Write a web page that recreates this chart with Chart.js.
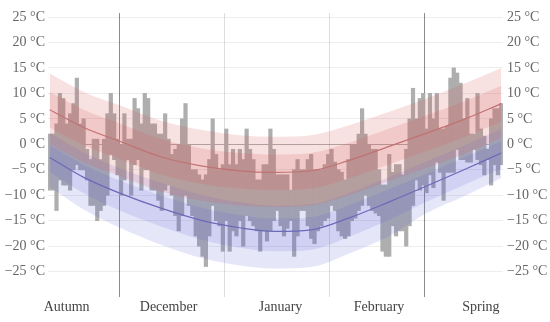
<!DOCTYPE html>
<html>
<head>
<meta charset="utf-8">
<script src="https://cdn.jsdelivr.net/npm/chart.js@4"></script>
<style>
  html, body { margin: 0; padding: 0; background: #fff; }
</style>
</head>
<body>
<canvas id="chart" width="550" height="322"></canvas>
<script>
// daily observed range, one entry per day starting Nov 10
const dayHighs = [
  2, 2, 4, 10, 9, 4, 6, 8, 13, 4,
  5, -1, -3, 1, 1, -3, 1, 6, 10, 6,
  1, 0, 6, 1, 1, 9, 7, 4, 10, 9,
  4, 4, 2, 2, 6, 1, -2, -1, 0, 5,
  8, 0, -5, -5, -6, -7, -6, -3, 5, -2,
  -5, -4, 3, -4, -1, -4, -1, -3, 3, -1,
  -3, -7, -7, -4, -4, 3, -1, -6, -6, -6,
  -6, -9, -5, -3, -5, -5, -3, -2, -5, -5,
  -5, -4, -2, -1, -3.5, -5, -5.5, -7, -3, 0,
  0, 2, 7, 2, 0, -1, -1, -5, -8, -8,
  -2, -5.5, -4, -4, -6, -1, 5, 11, 5, 9,
  10, 3, 10, 5, 10, 3, 3, 3.5, 13, 15,
  14, 12, 5, 9, 2, 2, 10, 3, 1.6, -1,
  5, 7, 7, 8
]
const dayLows = [
  -9, -9, -13, -7, -8, -8, -9, -5, -4, -5,
  -5, -7, -12, -12, -15, -13, -12, -10, -2, -3,
  -6, -10, -7, -3, -10, -4, -3, -9, -5, -5,
  -9, -9, -11, -13, -9, -8, -10, -14, -17, -14,
  -10, -12, -14, -18, -20, -22, -24, -18, -12, -15,
  -16, -21, -15, -21, -17, -18, -15, -20, -14, -15,
  -16, -17, -21, -17, -19, -17, -15, -13, -16, -18,
  -16.5, -15, -22, -18, -13, -13, -16, -18.5, -19.5, -17,
  -16, -15, -14.5, -12, -13, -17, -18, -18.5, -18, -15,
  -14.5, -13, -12, -10, -12, -13, -13.5, -14, -21, -22,
  -22, -16, -18, -17, -17, -20, -16, -12, -7, -9,
  -8, -9.5, -6, -8.5, -3.5, -5.5, -11, -5.5, -5.5, -5.5,
  -1, -3, -3, -3.5, -3.5, -1, -3, -4, -6, -3,
  -8, -4, -6, -4
]

// climate normals, sampled on these days
const sampleDays = [0, 10, 21, 33, 45, 56, 66, 77, 88, 100, 111, 122, 133]
const avgHigh = [6.8, 3.3, 0.5, -2.5, -4.3, -5.2, -5.5, -5.2, -3.2, -0.4, 2.2, 4.9, 8.0]
const high90 = [13.9, 10.3, 7.6, 4.6, 2.8, 1.8, 1.5, 1.8, 3.7, 6.4, 9.0, 11.9, 15.0]
const high75 = [10.3, 6.8, 4.0, 1.0, -0.8, -1.7, -2.0, -1.7, 0.3, 3.1, 5.7, 8.4, 11.5]
const high25 = [3.3, -0.2, -3.0, -6.0, -7.8, -8.7, -9.0, -8.7, -6.7, -3.9, -1.3, 1.4, 4.5]
const high10 = [0.0, -3.5, -6.3, -9.3, -11.1, -12.0, -12.3, -12.0, -10.0, -7.2, -4.6, -1.9, 1.3]
const avgLow = [-2.6, -6.5, -9.7, -12.6, -15.0, -16.4, -17.1, -16.8, -14.5, -11.3, -8.2, -5.0, -1.7]
const low90 = [2.2, -1.6, -4.8, -7.6, -10.0, -11.4, -12.1, -11.8, -9.6, -6.4, -3.4, -0.3, 3.0]
const low75 = [-0.2, -4.0, -7.2, -10.1, -12.5, -13.9, -14.6, -14.3, -12.0, -8.8, -5.8, -2.6, 0.6]
const low25 = [-5.4, -9.6, -13.1, -16.2, -18.8, -20.3, -21.0, -20.7, -18.2, -14.8, -11.3, -8.0, -4.8]
const low10 = [-8.4, -12.8, -16.5, -19.8, -22.4, -23.8, -24.4, -24.1, -21.5, -18.0, -13.5, -10.2, -6.6]

// axis
const periodLabels = ['Autumn', 'December', 'January', 'February', 'Spring']
const periodAt = [5, 35, 68, 97, 127]
const monthEdges = [20.5, 51.5, 82.5, 110.5]
const seasonEdges = [20.5, 110.5]
const tempTicks = [-25, -20, -15, -10, -5, 0, 5, 10, 15, 20, 25]

// ----------------------------------------------------------------------
const curve = vals => sampleDays.map((d, i) => ({ x: d, y: vals[i] }))

function band (vals, fill, color) {
    return {
        type: 'line',
        data: curve(vals),
        borderColor: 'rgba(0,0,0,0)',
        borderWidth: 0,
        pointRadius: 0,
        cubicInterpolationMode: 'monotone',
        fill: fill,
        backgroundColor: color,
        order: 2
    }
}

function avgLine (vals, color) {
    return {
        type: 'line',
        data: curve(vals),
        borderColor: color,
        borderWidth: 1.2,
        pointRadius: 0,
        cubicInterpolationMode: 'monotone',
        fill: false,
        order: 1
    }
}

const pink = 'rgba(215,90,90,0.18)'
const blue = 'rgba(90,90,215,0.15)'
const fmt = v => (v < 0 ? '\u2212' + Math.abs(v) : v) + ' °C'
const serif = { family: "'Liberation Serif', 'DejaVu Serif', serif", size: 14 }

const datasets = [
    band(high90, false, pink),
    band(high10, '-1', pink),
    band(high75, false, pink),
    band(high25, '-1', pink),
    band(low90, false, blue),
    band(low10, '-1', blue),
    band(low75, false, blue),
    band(low25, '-1', blue),
    {
        type: 'bar',
        data: dayHighs.map((h, i) => ({ x: i, y: [dayLows[i], h] })),
        backgroundColor: 'rgb(174,174,174)',
        borderWidth: 0,
        barPercentage: 1,
        categoryPercentage: 1,
        inflateAmount: 0.4,
        order: 3
    },
    avgLine(avgHigh, '#c07272'),
    avgLine(avgLow, '#6a6ab8')
]

const yAxis = (pos, width) => ({
    position: pos,
    z: 1,
    min: -30,
    max: 25.8,
    afterBuildTicks: s => { s.ticks = tempTicks.map(v => ({ value: v })) },
    afterFit: s => { s.width = width },
    ticks: { callback: fmt, color: '#666', font: serif, padding: pos === 'left' ? 3 : 4 },
    grid: {
        display: pos === 'left',
        drawTicks: false,
        color: ctx => (ctx.tick && ctx.tick.value === 0) ? 'rgba(0,0,0,0.32)' : 'rgba(0,0,0,0.07)'
    },
    border: { display: false }
})

const config = {
    type: 'bar',
    data: { datasets: datasets },
    options: {
        responsive: false,
        animation: false,
        layout: { padding: { top: 13, left: 0, right: 0, bottom: 0 } },
        plugins: { legend: { display: false }, tooltip: { enabled: false } },
        scales: {
            x: {
                type: 'linear',
                z: 1,
                min: -0.5,
                max: 133.5,
                offset: false,
                afterBuildTicks: s => {
                    s.ticks = [...monthEdges, ...periodAt].sort((a, b) => a - b).map(v => ({ value: v }))
                },
                afterFit: s => { s.height = 25 },
                ticks: {
                    autoSkip: false,
                    maxRotation: 0,
                    padding: 2,
                    color: '#444',
                    font: serif,
                    callback: v => {
                        const i = periodAt.indexOf(v)
                        return i >= 0 ? periodLabels[i] : ''
                    }
                },
                grid: {
                    offset: false,
                    drawTicks: false,
                    color: ctx => {
                        const v = ctx.tick ? ctx.tick.value : null
                        if (seasonEdges.includes(v)) return 'rgba(0,0,0,0.45)'
                        if (monthEdges.includes(v)) return 'rgba(0,0,0,0.13)'
                        return 'rgba(0,0,0,0)'
                    }
                },
                border: { display: false }
            },
            y: yAxis('left', 48),
            y2: yAxis('right', 47)
        }
    }
}

const chart = new Chart(document.getElementById('chart'), config)
</script>
</body>
</html>
